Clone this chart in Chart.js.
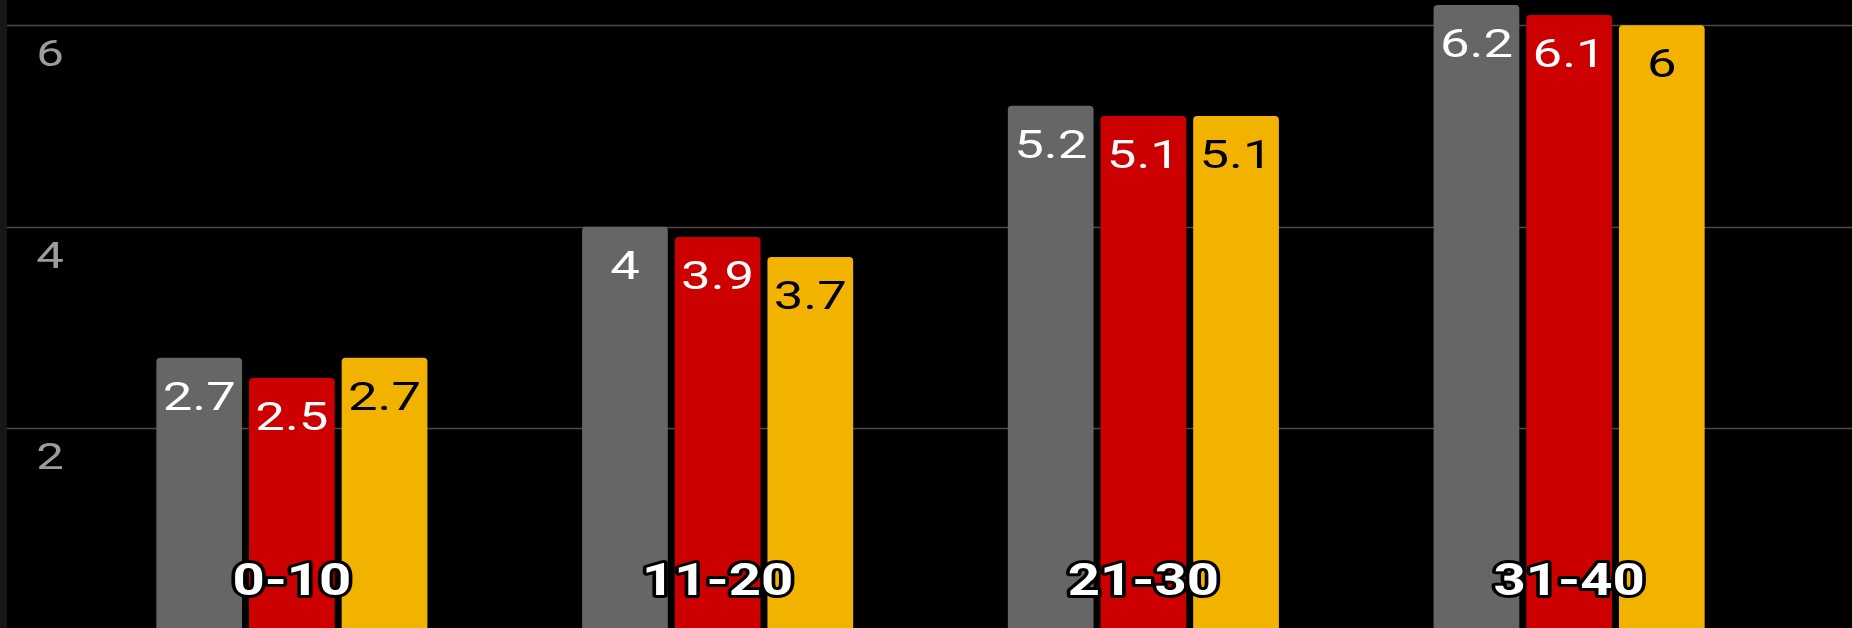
<!DOCTYPE html>
<html>
<head>
<meta charset="utf-8">
<script src="https://cdn.jsdelivr.net/npm/chart.js@4.4.1/dist/chart.umd.min.js"></script>
<style>
  html, body { margin: 0; padding: 0; background: #000; overflow: hidden; }
  canvas { display: block; }
</style>
</head>
<body>
<canvas id="ageChart" width="1852" height="628"></canvas>
<script>
const categories = ['0-10', '11-20', '21-30', '31-40'];
const greyValues = [2.7, 4, 5.2, 6.2];
const redValues = [2.5, 3.9, 5.1, 6.1];
const yellowValues = [2.7, 3.7, 5.1, 6];
const yTicks = [2, 4, 6];

const barColors = ['#666666', '#cc0000', '#f2b300'];
const labelColors = ['#ffffff', '#ffffff', '#000000'];

// text in the picture is wide, so stretch it out horizontally
function wideText(ctx, text, x, y, sx, stroke) {
    ctx.save();
    ctx.translate(x, y);
    ctx.scale(sx, 1);
    if (stroke) ctx.strokeText(text, 0, 0);
    ctx.fillText(text, 0, 0);
    ctx.restore();
}

// background, left strip and full width grid lines + y labels
const backdrop = {
    id: 'backdrop',
    beforeDraw(chart) {
        const ctx = chart.ctx;
        ctx.save();
        ctx.fillStyle = '#000';
        ctx.fillRect(0, 0, chart.width, chart.height);
        ctx.fillStyle = '#161616';
        ctx.fillRect(0, 0, 7, chart.height);
        ctx.restore();
    },
    beforeDatasetsDraw(chart) {
        const ctx = chart.ctx;
        const y = chart.scales.y;
        ctx.save();
        ctx.strokeStyle = '#4a4a4a';
        ctx.lineWidth = 1.5;
        yTicks.forEach(v => {
            const py = Math.round(y.getPixelForValue(v)) + 0.5;
            ctx.beginPath();
            ctx.moveTo(7, py);
            ctx.lineTo(chart.width, py);
            ctx.stroke();
        });
        ctx.fillStyle = '#9c9c9c';
        ctx.font = '37px Roboto';
        ctx.textAlign = 'center';
        ctx.textBaseline = 'alphabetic';
        yTicks.forEach(v => {
            wideText(ctx, String(v), 50, y.getPixelForValue(v) + 41, 1.33);
        });
        ctx.restore();
    }
};

// value labels inside the bar tops, category names near the bottom
const barText = {
    id: 'barText',
    afterDatasetsDraw(chart) {
        const ctx = chart.ctx;
        ctx.save();
        ctx.textAlign = 'center';
        ctx.textBaseline = 'alphabetic';
        ctx.font = '39px Roboto';
        chart.data.datasets.forEach((ds, i) => {
            const meta = chart.getDatasetMeta(i);
            ctx.fillStyle = labelColors[i];
            meta.data.forEach((bar, j) => {
                wideText(ctx, String(ds.data[j]), bar.x, bar.y + 52, 1.35);
            });
        });

        const x = chart.scales.x;
        ctx.font = 'bold 45px Roboto';
        ctx.fillStyle = '#ffffff';
        ctx.strokeStyle = '#000000';
        ctx.lineWidth = 6;
        ctx.lineJoin = 'round';
        categories.forEach((c, i) => {
            wideText(ctx, c, x.getPixelForValue(i), chart.chartArea.bottom - 33, 1.25, true);
        });
        ctx.restore();
    }
};

const ctx = document.getElementById('ageChart');
new Chart(ctx, {
    type: 'bar',
    data: {
        labels: categories,
        datasets: [
            { data: greyValues, backgroundColor: barColors[0] },
            { data: redValues, backgroundColor: barColors[1] },
            { data: yellowValues, backgroundColor: barColors[2] }
        ]
    },
    options: {
        responsive: false,
        animation: false,
        layout: { padding: { left: 79, right: 70, top: 0, bottom: 0 } },
        datasets: {
            bar: {
                categoryPercentage: 0.653,
                barPercentage: 0.925,
                borderRadius: 4,
                borderSkipped: 'bottom'
            }
        },
        plugins: {
            legend: { display: false },
            tooltip: { enabled: false }
        },
        scales: {
            x: { display: false, offset: true },
            y: { display: false, min: 0.02, max: 6.25 }
        }
    },
    plugins: [backdrop, barText]
});
</script>
</body>
</html>
